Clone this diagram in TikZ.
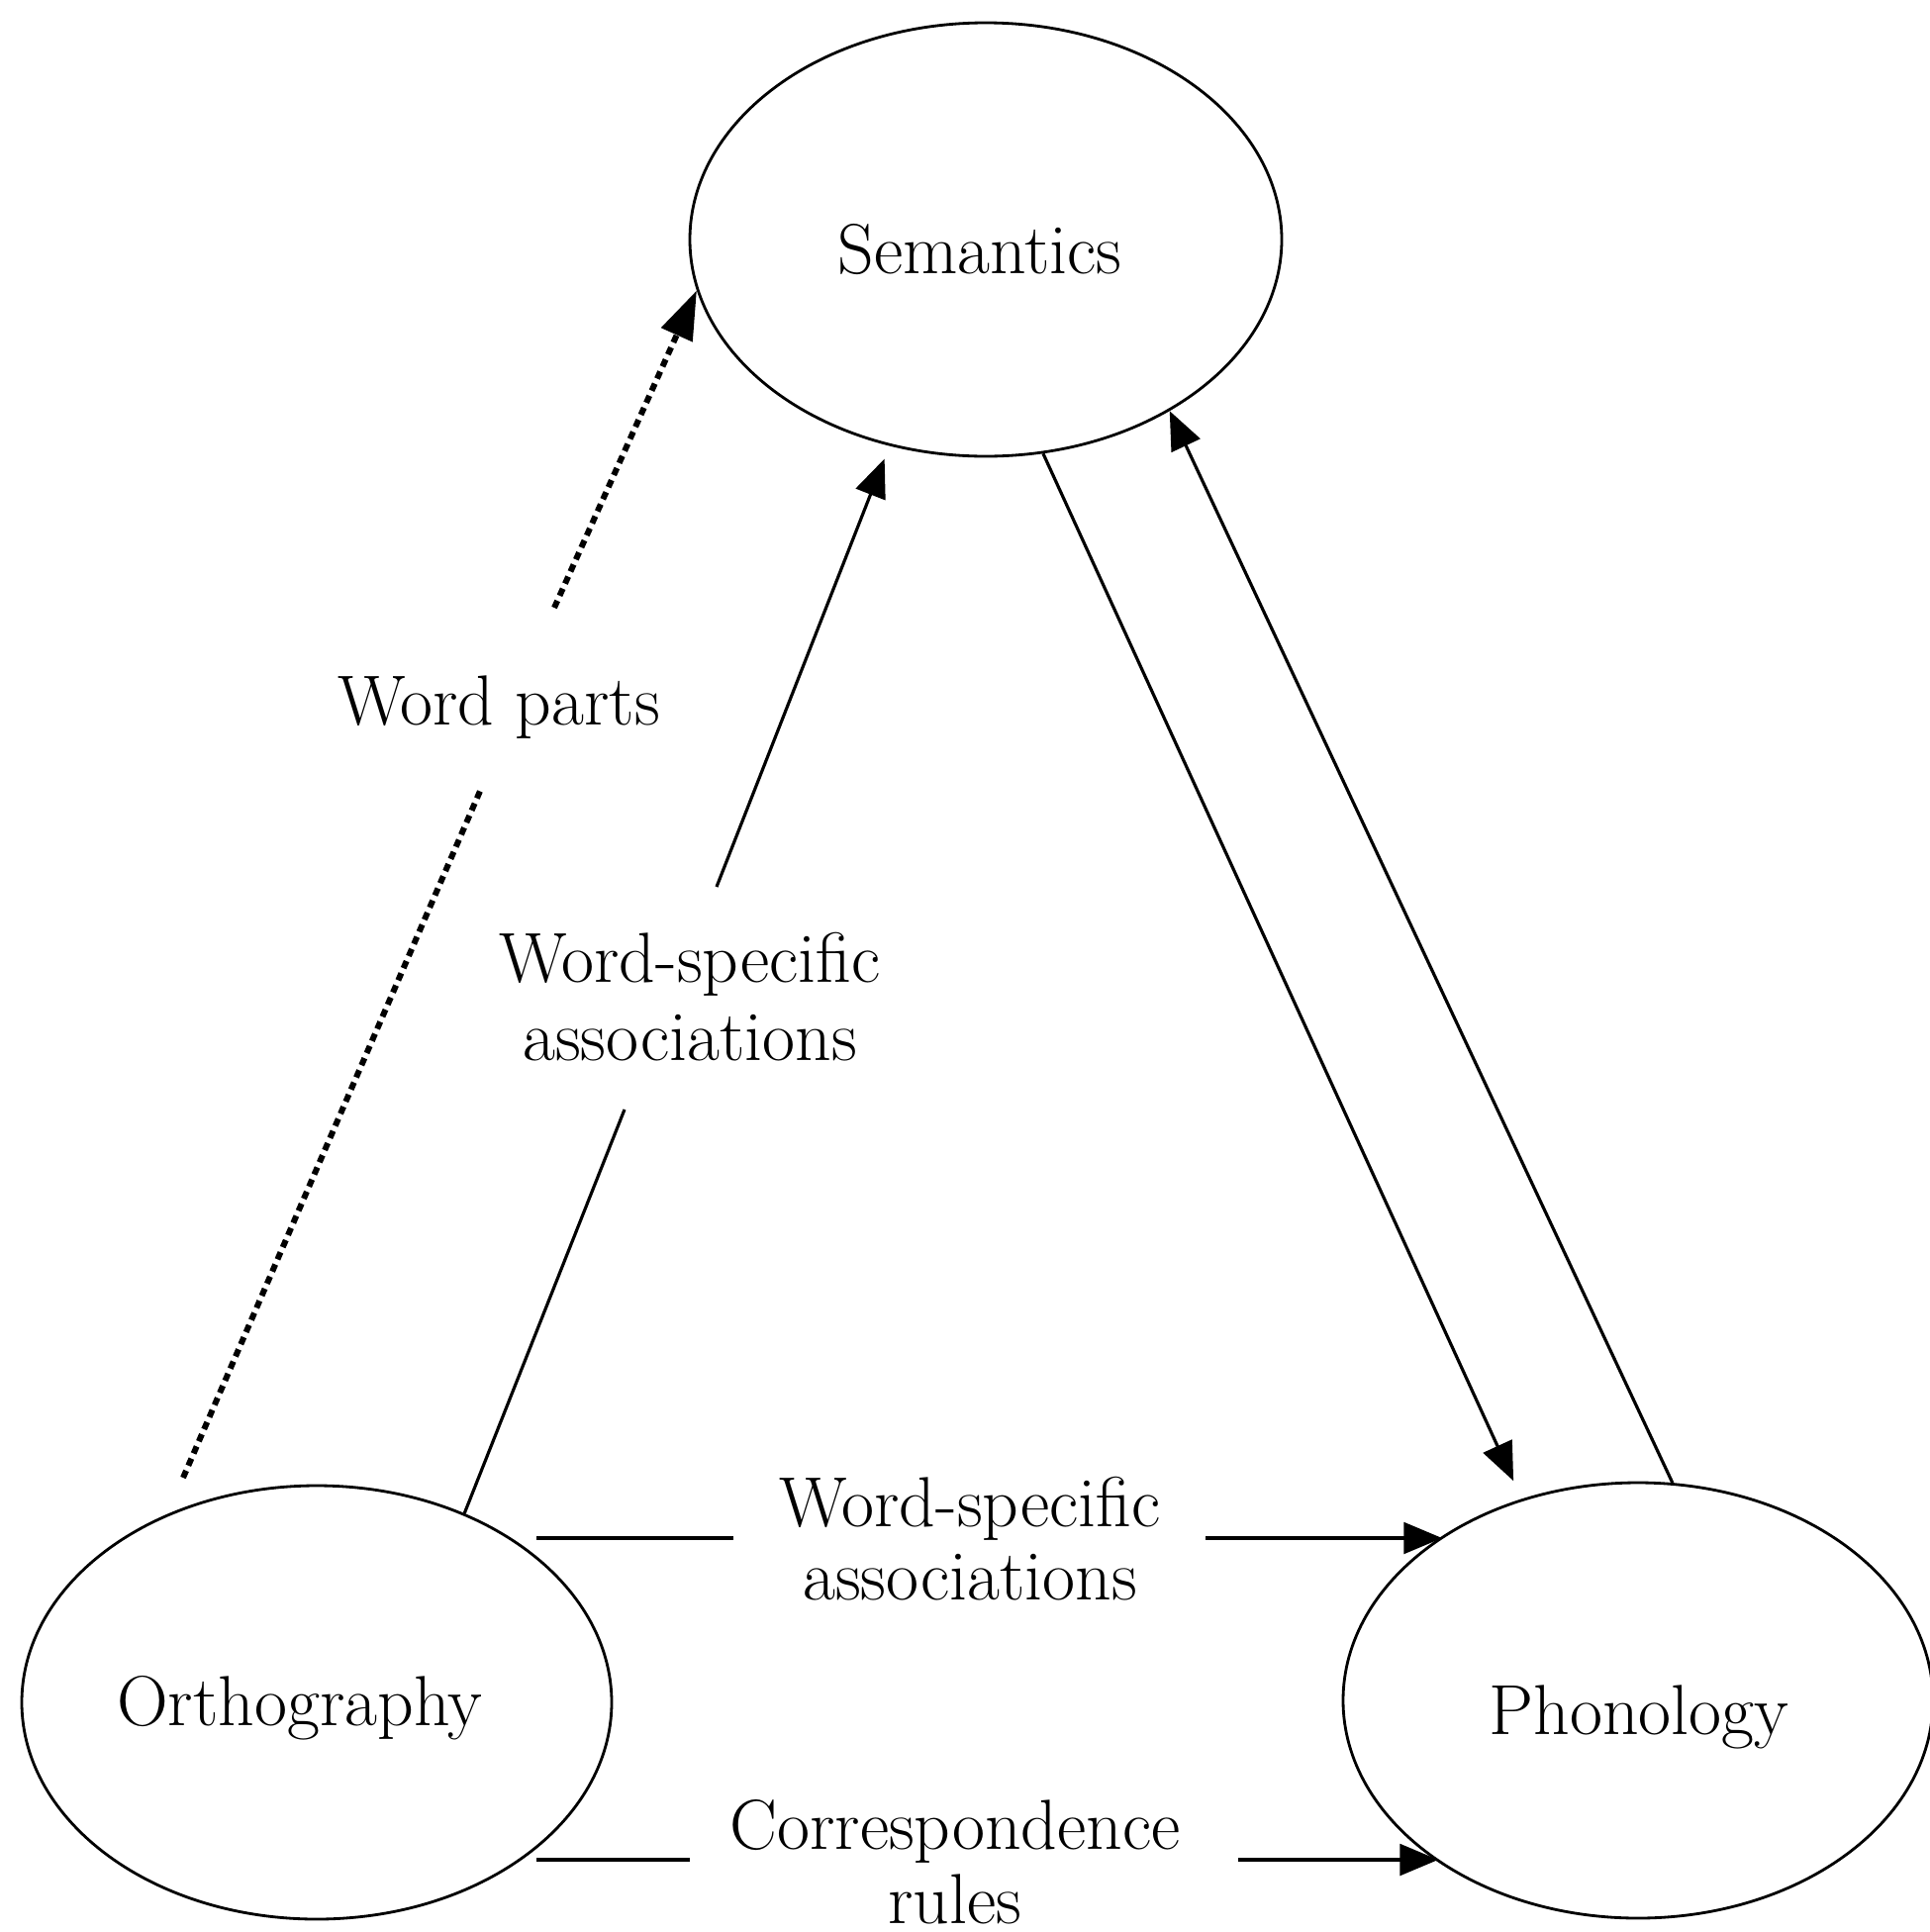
\documentclass[tikz,border=0pt]{standalone}
\usepackage{fontspec}
\usetikzlibrary{arrows.meta,shapes.geometric}
\begin{document}
\begin{tikzpicture}[x=0.1mm,y=-0.1mm,
  bubble/.style={draw, ellipse, line width=0.8pt, inner sep=0pt},
  lbl/.style={inner sep=0pt, anchor=base, font=\fontsize{20.4}{24}\selectfont},
  link/.style={line width=0.9pt},
  head/.style={-{Triangle[length=11pt,width=9pt]}},
  partsline/.style={line width=1.7pt, dash pattern=on 2.2pt off 1.6pt}
]
\useasboundingbox (0,0) rectangle (1950,1952);

% the three components
\node[bubble, minimum width=59.8mm, minimum height=43.8mm] (sem)  at (996,242)   {};
\node[bubble, minimum width=59.6mm, minimum height=43.8mm] (orth) at (320,1720)  {};
\node[bubble, minimum width=59.6mm, minimum height=44mm]   (phon) at (1655,1718) {};

\node[lbl] (semT)  at (990,276)   {Semantics};
\node[lbl] (orthT) at (303,1743)  {Orthography};
\node[lbl] (phonT) at (1656,1752) {Phonology};

% connector labels
\node[lbl] (partsT) at (504,732)  {Word parts};
\node[lbl] (wsA1)   at (697,992)  {Word-specific};
\node[lbl] (wsA2)   at (697,1071) {associations};
\node[lbl] (wsB1)   at (980,1542) {Word-specific};
\node[lbl] (wsB2)   at (980,1616) {associations};
\node[lbl] (cr1)    at (965,1868) {Correspondence};
\node[lbl] (cr2)    at (965,1943) {rules};

% free ends of the broken connectors
\coordinate (p0) at (185,1493);
\coordinate (p1) at (486,797);
\coordinate (p2) at (560,614);
\coordinate (a1) at (631,1121);
\coordinate (a2) at (724,896);
\coordinate (h0) at (542,1554);
\coordinate (h1) at (741,1554);
\coordinate (h2) at (1218,1554);
\coordinate (r0) at (542,1879);
\coordinate (r1) at (697,1879);
\coordinate (r2) at (1251,1879);

% orthography -> semantics via word parts
\draw[partsline] (p0) -- (p1);
\draw[partsline, -{Triangle[length=14pt,width=9.5pt]}] (p2) -- (sem.190);

% orthography -> semantics, word-specific
\draw[link] (orth.52) -- (a1);
\draw[link, head, shorten >=1.4mm] (a2) -- (sem.245);

% semantics <-> phonology
\draw[link, head, shorten >=2mm] (sem.285) -- (phon.120);
\draw[link, head] (phon.81) -- (sem.317);

% orthography -> phonology
\draw[link] (h0) -- (h1);
\draw[link, head] (h2) -- (h2 -| phon.140);
\draw[link] (r0) -- (r1);
\draw[link, head] (r2) -- (r2 -| phon.219);
\end{tikzpicture}
\end{document}
